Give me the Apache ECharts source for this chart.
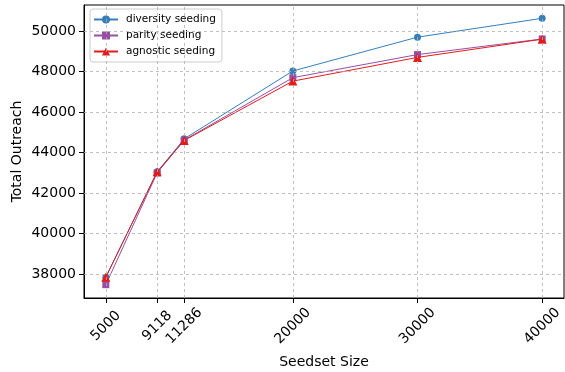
<!DOCTYPE html>
<html>
<head>
<meta charset="utf-8">
<script src="https://cdn.jsdelivr.net/npm/echarts@6/dist/echarts.min.js"></script>
<style>html,body{margin:0;padding:0;background:#fff}#c{width:565px;height:372px}</style>
</head>
<body>
<div id="c"></div>
<script>
const seedSizes = [5000, 9118, 11286, 20000, 30000, 40000];
const diversity = [37850, 43050, 44680, 48030, 49700, 50630];
const parity    = [37480, 43000, 44620, 47700, 48840, 49610];
const agnostic  = [37850, 43050, 44600, 47530, 48700, 49600];
const xTicks = [5000, 9118, 11286, 20000, 30000, 40000];
const yTicks = [38000, 40000, 42000, 44000, 46000, 48000, 50000];
const seriesNames = ['diversity seeding', 'parity seeding', 'agnostic seeding'];
const colors = ['#377eb8', '#984ea3', '#e41a1c'];
const symbols = ['circle', 'rect', 'triangle'];

const allY = diversity.concat(parity, agnostic);
const yLo = Math.min(...allY), yHi = Math.max(...allY);
const xLo = Math.min(...seedSizes), xHi = Math.max(...seedSizes);
const m = 0.05;
const yMin = yLo - m * (yHi - yLo), yMax = yHi + m * (yHi - yLo);
const xMin = xLo - m * (xHi - xLo), xMax = xHi + m * (xHi - xLo);

const font = 'DejaVu Sans';
const pair = arr => seedSizes.map((x, i) => [x, arr[i]]);
const grid = { type: [3, 3], color: '#b0b0b0', width: 0.8 };

const chart = echarts.init(document.getElementById('c'), null, { renderer: 'canvas' });
const dataSets = [diversity, parity, agnostic];
const series = [{
  name: 'grid', type: 'line', data: [], z: 1, silent: true,
  markLine: {
    silent: true, symbol: ['none', 'none'], label: { show: false },
    lineStyle: grid, animation: false,
    data: xTicks.map(v => ({ xAxis: v })).concat(yTicks.map(v => ({ yAxis: v })))
  }
}].concat(dataSets.map((d, i) => ({
  name: seriesNames[i], type: 'line', data: pair(d),
  symbol: symbols[i], symbolSize: symbols[i] === 'circle' ? 7 : (symbols[i] === 'rect' ? 7 : 9),
  showAllSymbol: true,
  itemStyle: { color: colors[i] },
  lineStyle: { color: colors[i], width: 1 },
  z: 2 + i, animation: false
})));

chart.setOption({
  animation: false,
  grid: { left: 84, right: 1, top: 5, bottom: 74, show: true, borderColor: '#000', borderWidth: 1,
    containLabel: false, outerBoundsMode: 'none' },
  legend: {
    data: seriesNames, orient: 'vertical', left: 90, top: 9,
    itemWidth: 24, itemHeight: 10, itemGap: 5,
    padding: [5, 6, 5, 3],
    backgroundColor: 'rgba(255,255,255,0.8)', borderColor: '#cccccc', borderWidth: 1, borderRadius: 3,
    textStyle: { fontFamily: font, fontSize: 10.5, color: '#000', padding: [0, 0, 0, 3] }
  },
  xAxis: {
    type: 'value', min: xMin, max: xMax,
    name: 'Seedset Size', nameLocation: 'middle', nameGap: 57, nameMoveOverlap: false,
    nameTextStyle: { fontFamily: font, fontSize: 14, color: '#000' },
    axisLine: { show: true, lineStyle: { color: '#000', width: 1 } },
    axisTick: { show: true, length: 5, customValues: xTicks, lineStyle: { color: '#000' } },
    axisLabel: { customValues: xTicks, rotate: 45, align: 'center', verticalAlign: 'middle', margin: 28,
      formatter: v => String(v), fontFamily: font, fontSize: 14, color: '#000' },
    splitLine: { show: false }
  },
  yAxis: {
    type: 'value', min: yMin, max: yMax,
    name: 'Total Outreach', nameLocation: 'middle', nameGap: 60, nameMoveOverlap: false,
    nameTextStyle: { fontFamily: font, fontSize: 14, color: '#000' },
    axisLine: { show: true, lineStyle: { color: '#000', width: 1 } },
    axisTick: { show: true, length: 5, customValues: yTicks, lineStyle: { color: '#000' } },
    axisLabel: { customValues: yTicks, margin: 8, formatter: v => String(v),
      fontFamily: font, fontSize: 14, color: '#000' },
    splitLine: { show: false }
  },
  series: series
});
</script>
</body>
</html>
